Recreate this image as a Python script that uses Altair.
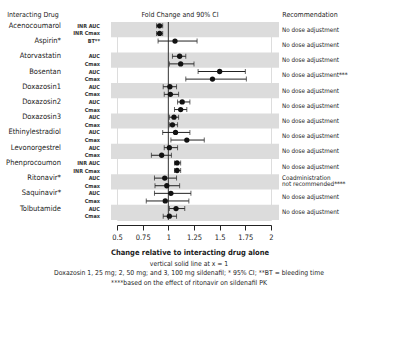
import altair as alt
import pandas as pd

drugs = ["Acenocoumarol", "Aspirin*", "Atorvastatin", "Bosentan", "Doxazosin1",
         "Doxazosin2", "Doxazosin3", "Ethinylestradiol", "Levonorgestrel",
         "Phenprocoumon", "Ritonavir*", "Saquinavir*", "Tolbutamide"]

recommendations = ["No dose adjustment", "No dose adjustment", "No dose adjustment",
                   "No dose adjustment***", "No dose adjustment", "No dose adjustment",
                   "No dose adjustment", "No dose adjustment", "No dose adjustment",
                   "No dose adjustment", "Coadministration\nnot recommended****",
                   "No dose adjustment", "No dose adjustment"]

# two rows per drug (Aspirin has only one measure)
row_drug_idx = [0, 0, 1, 2, 2, 3, 3, 4, 4, 5, 5, 6, 6, 7, 7, 8, 8, 9, 9, 10, 10, 11, 11, 12, 12]
row_slot = [0, 1, 0, 0, 1, 0, 1, 0, 1, 0, 1, 0, 1, 0, 1, 0, 1, 0, 1, 0, 1, 0, 1, 0, 1]
measures = ["INR AUC", "INR Cmax", "BT**", "AUC", "Cmax", "AUC", "Cmax", "AUC", "Cmax",
            "AUC", "Cmax", "AUC", "Cmax", "AUC", "Cmax", "AUC", "Cmax",
            "INR AUC", "INR Cmax", "AUC", "Cmax", "AUC", "Cmax", "AUC", "Cmax"]
fold_change = [0.915, 0.915, 1.065, 1.11, 1.12, 1.50, 1.43, 1.015, 1.02, 1.135, 1.12,
               1.055, 1.04, 1.07, 1.18, 1.01, 0.935, 1.085, 1.085, 0.965, 0.985,
               1.025, 0.97, 1.075, 1.01]
ci_low = [0.885, 0.885, 0.90, 1.04, 1.01, 1.29, 1.17, 0.95, 0.96, 1.09, 1.06,
          1.01, 1.01, 0.945, 1.025, 0.96, 0.835, 1.06, 1.06, 0.865, 0.87,
          0.865, 0.785, 1.01, 0.95]
ci_high = [0.945, 0.945, 1.28, 1.17, 1.25, 1.75, 1.76, 1.08, 1.10, 1.21, 1.18,
           1.10, 1.09, 1.21, 1.35, 1.09, 1.03, 1.12, 1.12, 1.08, 1.11,
           1.22, 1.20, 1.16, 1.08]

tick_values = [0.5, 0.75, 1, 1.25, 1.5, 1.75, 2]

foot_lines = ["vertical solid line at x = 1",
              "Doxazosin 1, 25 mg; 2, 50 mg; and 3, 100 mg sildenafil; * 95% CI; **BT = bleeding time",
              "****based on the effect of ritonavir on sildenafil PK"]

FONT = "Liberation Sans Narrow, DejaVu Sans Condensed, Liberation Sans, sans-serif"
W, H = 154, 198

rows = pd.DataFrame({
    "row": [2 * d + s + 0.5 for d, s in zip(row_drug_idx, row_slot)],
    "measure": measures,
    "est": fold_change,
    "lo": ci_low,
    "hi": ci_high,
})

drug_df = pd.DataFrame({
    "drug": drugs,
    "y0": [2 * i for i in range(len(drugs))],
    "y1": [2 * i + 2 for i in range(len(drugs))],
    "first": [2 * i + 0.5 for i in range(len(drugs))],
    "shade": ["g" if i % 2 == 0 else "w" for i in range(len(drugs))],
})

# recommendation lines, centred in each drug band; multi-line entries are stacked
rec_text, rec_y = [], []
for i, r in enumerate(recommendations):
    parts = r.split("\n")
    n = len(parts)
    for j, p in enumerate(parts):
        rec_text.append(p)
        rec_y.append(2 * i + 1 + (j - (n - 1) / 2) * 0.85 - (0.15 if n > 1 else 0))
rec_df = pd.DataFrame({"rec": rec_text, "ry": rec_y})

xs = alt.Scale(domain=[0.5, 2], nice=False, zero=False)
ys = alt.Scale(domain=[0, 26], reverse=True, nice=False, zero=False)
xaxis = alt.Axis(values=tick_values, labelExpr="format(datum.value, '.3~g')", title=None,
                 offset=5, tickSize=5, grid=False, domainColor="#222", tickColor="#222",
                 labelColor="#222", labelFontSize=7.5, labelFont=FONT,
                 labelPadding=3, labelOverlap=False, labelFlush=False)

base_rows = alt.Chart(rows)
base_drugs = alt.Chart(drug_df)

bands = base_drugs.transform_filter(alt.datum.shade == "g").mark_rect(
    color="#dcdcdc").encode(
    x=alt.value(-6), x2=alt.value(W + 8),
    y=alt.Y("y0:Q", scale=ys, axis=None), y2="y1:Q")

vline = alt.Chart(pd.DataFrame({"v": [1]})).mark_rule(
    color="#333333", strokeWidth=1).encode(
    x=alt.X("v:Q", scale=xs, axis=xaxis),
    y=alt.value(0), y2=alt.value(H))

bars = base_rows.mark_rule(color="#222", strokeWidth=1).encode(
    x=alt.X("lo:Q", scale=xs, axis=xaxis), x2="hi:Q",
    y=alt.Y("row:Q", scale=ys, axis=None))
cap_lo = base_rows.mark_tick(orient="vertical", size=5, thickness=1, color="#222").encode(
    x=alt.X("lo:Q", scale=xs, axis=xaxis), y=alt.Y("row:Q", scale=ys, axis=None))
cap_hi = base_rows.mark_tick(orient="vertical", size=5, thickness=1, color="#222").encode(
    x=alt.X("hi:Q", scale=xs, axis=xaxis), y=alt.Y("row:Q", scale=ys, axis=None))
pts = base_rows.mark_point(filled=True, size=28, color="#111", opacity=1).encode(
    x=alt.X("est:Q", scale=xs, axis=xaxis), y=alt.Y("row:Q", scale=ys, axis=None))

meas_txt = base_rows.mark_text(align="right", baseline="middle", fontSize=5.5,
                               fontWeight="bold", font=FONT, color="#333").encode(
    x=alt.value(-17), y=alt.Y("row:Q", scale=ys, axis=None), text="measure:N")

drug_txt = base_drugs.mark_text(align="right", baseline="middle", fontSize=7.5,
                                font=FONT, color="#222").encode(
    x=alt.value(-56), y=alt.Y("first:Q", scale=ys, axis=None), text="drug:N")

rec_txt = alt.Chart(rec_df).mark_text(align="left", baseline="middle", fontSize=6.3,
                                      font=FONT, color="#222").encode(
    x=alt.value(165), y=alt.Y("ry:Q", scale=ys, axis=None), text="rec:N")

headers = alt.Chart(pd.DataFrame({
    "t": ["Interacting Drug", "Fold Change and 90% CI", "Recommendation"],
    "px": [-84, 63, 193],
})).mark_text(align="center", baseline="middle", fontSize=7, font=FONT,
              color="#222").encode(x=alt.X("px:Q", scale=None), y=alt.value(-7), text="t:N")

xtitle = alt.Chart(pd.DataFrame({"t": ["Change relative to interacting drug alone"]})).mark_text(
    align="center", baseline="middle", fontSize=7.5, fontWeight="bold", font=FONT,
    color="#222").encode(x=alt.value(73), y=alt.value(231), text="t:N")

foot = alt.Chart(pd.DataFrame({"t": foot_lines, "py": [242, 251, 261]})).mark_text(
    align="center", baseline="middle", fontSize=6.8, font=FONT, color="#222").encode(
    x=alt.value(72), y=alt.Y("py:Q", scale=None), text="t:N")

chart = alt.layer(bands, vline, bars, cap_lo, cap_hi, pts, meas_txt, drug_txt, rec_txt,
                  headers, xtitle, foot).properties(
    width=W, height=H,
    autosize=alt.AutoSizeParams(type="none"),
    padding={"left": 117, "top": 22, "right": 400 - 117 - W, "bottom": 357 - 22 - H},
).configure_view(stroke=None).configure(background="white")

chart.save("out.html", embed_options={"renderer": "svg", "actions": False})
